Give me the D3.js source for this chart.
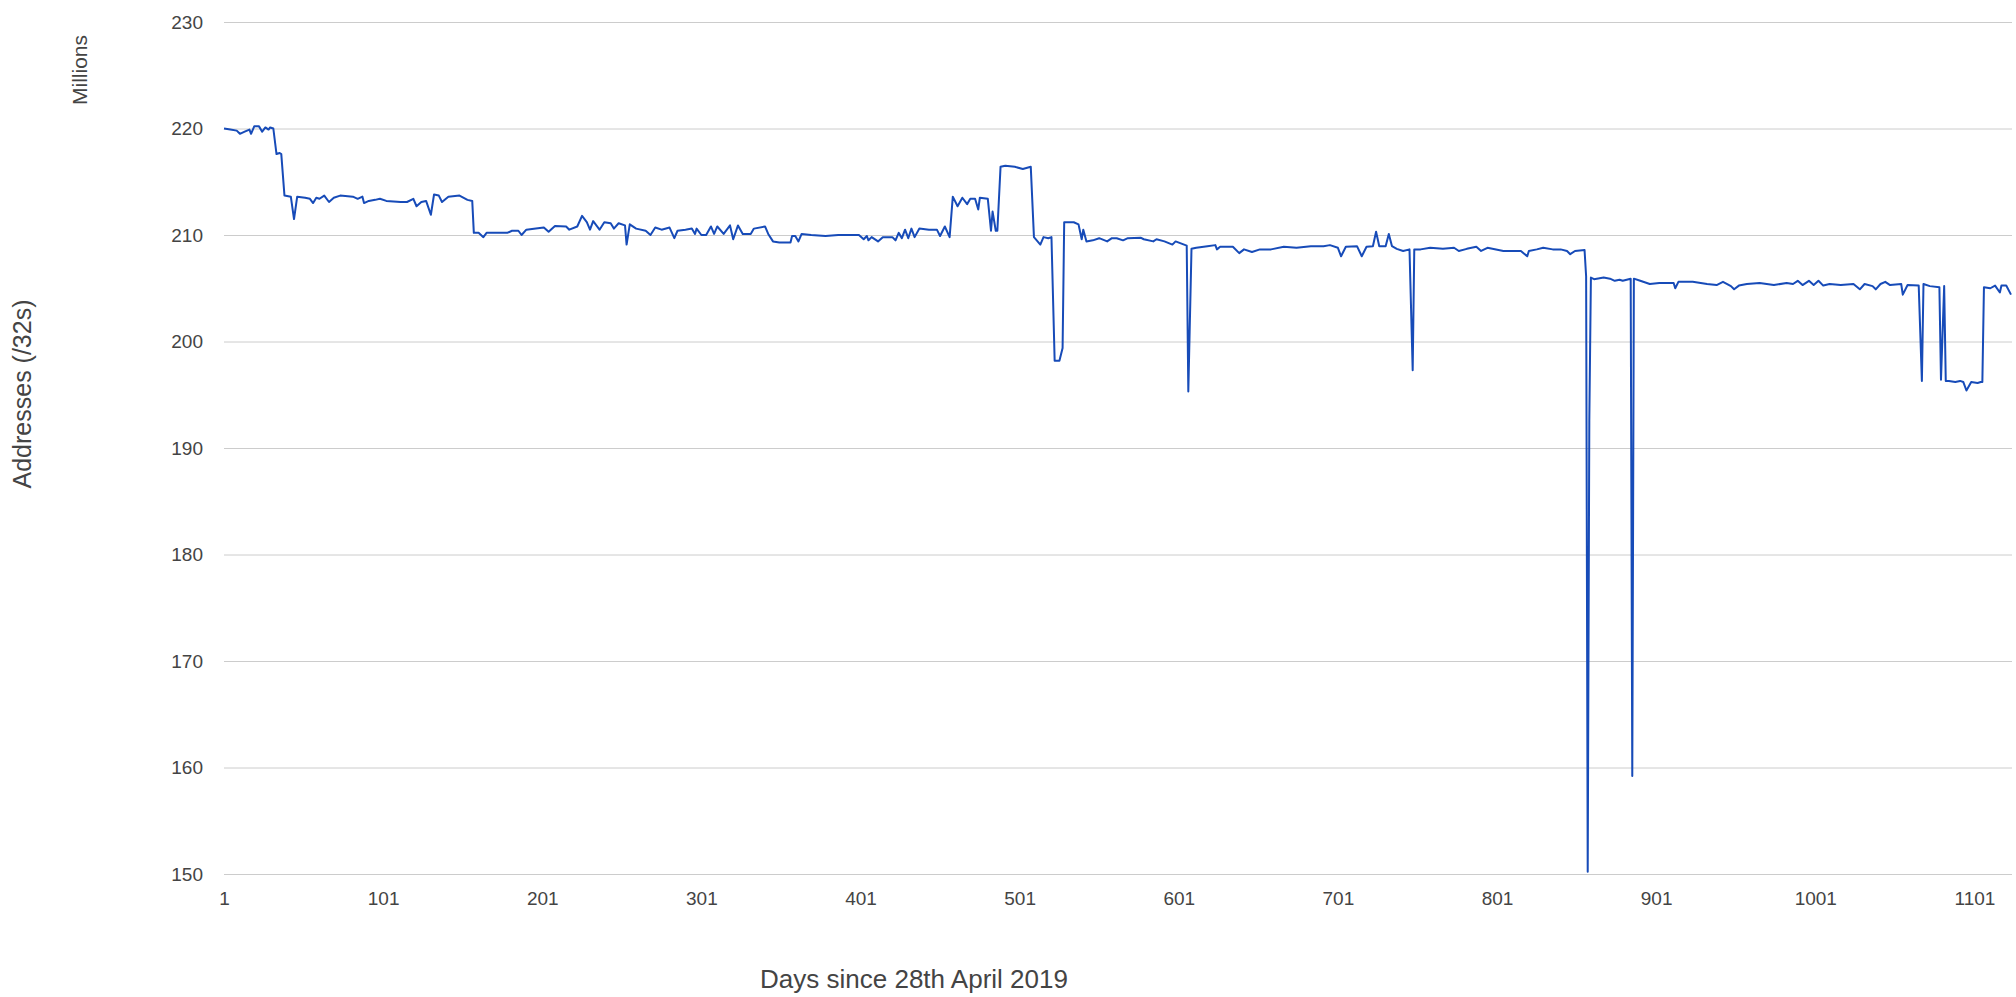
<!DOCTYPE html>
<html>
<head>
<meta charset="utf-8">
<script src="https://cdn.jsdelivr.net/npm/d3@7"></script>
<style>
	body { margin: 0; background: #fff; }
	svg { display: block; font-family: "Liberation Sans", Arial, sans-serif; }
</style>
</head>
<body>
<svg id="chart"></svg>
<script>
// values (days since 28th April 2019, millions of /32s)
var days = [1,5,9,11,14,17,18,20,23,25,27,29,30,32,34,36,37,39,43,45,47,52,55,57,59,61,64,67,70,74,82,85,88,89,92,96,99,103,112,116,120,122,125,128,131,133,136,138,142,149,154,157,158,161,164,166,172,179,182,186,188,191,197,202,205,209,216,218,223,226,229,231,233,237,240,244,246,249,253,254,256,260,266,269,272,276,
	281,284,286,291,295,297,298,301,304,307,309,311,315,319,321,324,327,332,334,341,343,346,350,357,358,360,362,364,370,379,387,400,403,405,406,408,412,415,421,423,425,427,429,431,433,435,438,444,449,451,454,457,459,462,465,468,470,473,475,476,481,483,484,486,487,489,492,498,503,508,510,514,516,519,521,523,526,528,529,535,538,540,541,543,547,551,556,559,
	562,566,569,577,579,585,587,592,597,599,606,607,609,612,619,624,625,627,631,635,639,642,647,652,659,667,675,684,692,696,701,703,706,713,716,719,723,725,727,731,733,735,738,742,746,748,749,753,759,767,774,777,782,788,791,795,805,816,820,821,826,830,836,
	841,845,847,850,856,857,858,859,860,862,868,872,875,878,880,885,886,887,891,897,903,912,913,915,924,933,939,943,948,950,953,958,966,975,983,987,990,993,997,1000,1003,1006,1010,1017,1025,1029,1032,1037,1039,1042,1045,1048,1055,1056,1059,1066,1068,1069,1073,1079,1080,1082,1083,1085,1089,1092,1094,1096,1099,1103,1105,1106,1107,1111,1114,1117,1118,1121,1124];
var addresses = [220.0,219.9,219.8,219.5,219.7,219.9,219.5,220.2,220.2,219.7,220.1,219.9,220.1,220.0,217.6,217.7,217.6,213.7,213.6,211.5,213.6,213.5,213.4,213.0,213.5,213.4,213.7,213.1,213.5,213.7,213.6,213.4,213.6,213.0,213.2,213.3,213.4,213.2,213.1,213.1,213.4,212.7,213.1,213.2,211.9,213.8,213.7,213.1,213.6,213.7,213.3,213.2,210.2,210.2,209.8,210.2,210.2,210.2,210.4,210.4,210.0,210.5,210.6,210.7,210.3,210.85,210.8,210.5,210.8,211.8,211.2,210.5,211.3,210.5,211.2,211.1,210.6,211.1,210.9,209.1,211.0,210.6,210.4,210.0,210.7,210.5,
	210.7,209.7,210.4,210.5,210.6,210.1,210.6,210.0,210.0,210.8,210.1,210.8,210.1,210.9,209.6,210.9,210.1,210.1,210.6,210.8,210.1,209.4,209.3,209.3,209.9,209.9,209.4,210.1,210.0,209.9,210.0,210.0,209.6,209.9,209.5,209.8,209.4,209.8,209.8,209.5,210.2,209.7,210.5,209.7,210.6,209.8,210.6,210.5,210.5,209.9,210.8,209.8,213.6,212.7,213.5,212.9,213.4,213.4,212.4,213.5,213.4,210.4,212.2,210.4,210.4,216.4,216.5,216.4,216.2,216.4,209.8,209.1,209.8,209.7,209.8,198.2,198.2,199.4,211.2,211.2,211.0,209.6,210.5,209.4,209.5,209.7,209.4,209.7,
	209.7,209.5,209.7,209.75,209.6,209.4,209.6,209.4,209.1,209.4,209.0,195.3,208.7,208.8,208.95,209.05,208.65,208.9,208.9,208.9,208.3,208.65,208.4,208.65,208.65,208.9,208.8,208.95,208.95,209.05,208.8,208.0,208.9,208.95,208.0,208.9,208.95,210.3,208.95,208.95,210.1,208.95,208.7,208.5,208.65,197.3,208.65,208.65,208.8,208.7,208.8,208.5,208.7,208.9,208.5,208.8,208.5,208.5,208.0,208.5,208.65,208.8,208.65,
	208.65,208.5,208.2,208.5,208.6,206.1,150.2,192.6,206.0,205.85,206.0,205.9,205.7,205.8,205.7,205.9,159.2,205.9,205.7,205.4,205.5,205.5,205.0,205.6,205.6,205.4,205.3,205.6,205.2,204.9,205.25,205.4,205.5,205.3,205.5,205.4,205.7,205.3,205.7,205.3,205.7,205.25,205.4,205.3,205.4,204.9,205.4,205.2,204.9,205.4,205.6,205.3,205.4,204.4,205.3,205.25,196.3,205.4,205.2,205.1,196.4,205.2,196.3,196.3,196.2,196.3,196.2,195.4,196.2,196.1,196.2,196.2,205.1,205.0,205.25,204.6,205.25,205.25,204.4];
var yTicks = [150,160,170,180,190,200,210,220,230];
var xTickLabels = [1,101,201,301,401,501,601,701,801,901,1001,1101];

var width = 2016,
	height = 997,
	plotLeft = 224,
	plotRight = 2012,
	plotTop = 22,
	plotBottom = 874;

var svg = d3.select("#chart")
	.attr("width", width)
	.attr("height", height);
svg.append("rect")
	.attr("width", width)
	.attr("height", height)
	.attr("fill", "#fff");

var x = d3.scaleLinear()
	.domain([1, 1124])
	.range([plotLeft, 2011]);
var y = d3.scaleLinear()
	.domain([150, 230])
	.range([plotBottom, plotTop]);

// gridlines + y tick labels
var yAxis = svg.append("g")
	.attr("transform", "translate(" + plotLeft + ",0)")
	.call(d3.axisLeft(y).tickValues(yTicks).tickSize(-(plotRight - plotLeft)).tickPadding(21));
yAxis.select(".domain").remove();
yAxis.selectAll("line").attr("stroke", "#cccccc");
yAxis.selectAll("text")
	.attr("fill", "#444")
	.style("font-size", "19px")
	.style("font-family", "Liberation Sans, Arial, sans-serif");

var xAxis = svg.append("g")
	.attr("transform", "translate(0," + plotBottom + ")")
	.call(d3.axisBottom(x).tickValues(xTickLabels).tickFormat(d3.format("d")).tickSize(0).tickPadding(18));
xAxis.select(".domain").remove();
xAxis.selectAll("text")
	.attr("fill", "#444")
	.style("font-size", "19px")
	.style("font-family", "Liberation Sans, Arial, sans-serif");

var line = d3.line()
	.x(function(d) { return x(d[0]); })
	.y(function(d) { return y(d[1]); });

svg.append("path")
	.datum(d3.zip(days, addresses))
	.attr("d", line)
	.attr("fill", "none")
	.attr("stroke", "#174bb8")
	.attr("stroke-width", 2)
	.attr("stroke-linejoin", "round");

svg.append("text")
	.attr("transform", "translate(87,70) rotate(-90)")
	.attr("text-anchor", "middle")
	.attr("fill", "#444")
	.style("font-size", "21px")
	.text("Millions");

svg.append("text")
	.attr("transform", "translate(31,394) rotate(-90)")
	.attr("text-anchor", "middle")
	.attr("fill", "#444")
	.style("font-size", "25px")
	.text("Addresses (/32s)");

svg.append("text")
	.attr("x", 914)
	.attr("y", 988)
	.attr("text-anchor", "middle")
	.attr("fill", "#444")
	.style("font-size", "26px")
	.text("Days since 28th April 2019");
</script>
</body>
</html>
